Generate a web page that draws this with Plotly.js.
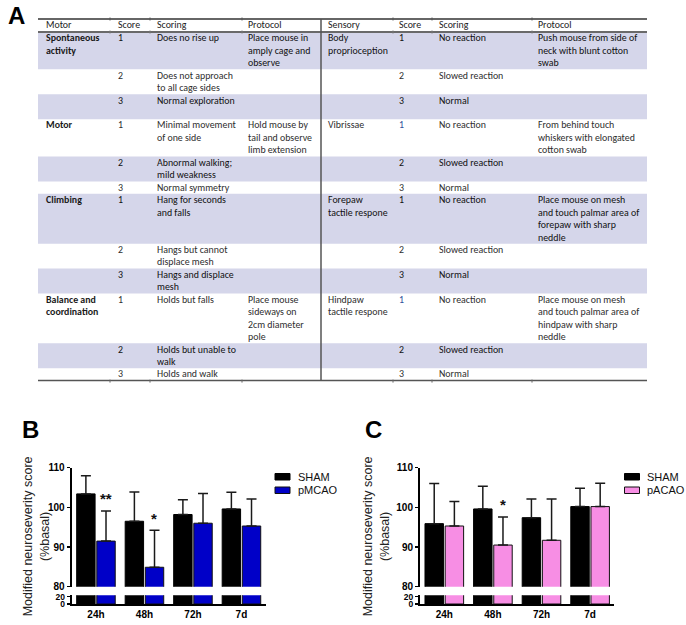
<!DOCTYPE html>
<html>
<head>
<meta charset="utf-8">
<script src="https://cdn.plot.ly/plotly-3.0.1.min.js"></script>
<style>html,body{margin:0;padding:0;background:#fff;}#chart{width:686px;height:625px;}</style>
</head>
<body>
<div id="chart"></div>
<script>
// ---------------- DATA ----------------
const tableHeaders = ["Motor", "Score", "Scoring", "Protocol", "Sensory", "Score", "Scoring", "Protocol"];
const motorCategory = ["Spontaneous\nactivity", "", "", "Motor", "", "", "Climbing", "", "", "Balance and\ncoordination", "", ""];
const motorScore = ["1", "2", "3", "1", "2", "3", "1", "2", "3", "1", "2", "3"];
const motorScoring = ["Does no rise up", "Does not approach\nto all cage sides", "Normal exploration",
  "Minimal movement\nof one side", "Abnormal walking;\nmild weakness", "Normal symmetry",
  "Hang for seconds\nand falls", "Hangs but cannot\ndisplace mesh", "Hangs and displace\nmesh",
  "Holds but falls", "Holds but unable to\nwalk", "Holds and walk"];
const motorProtocol = ["Place mouse in\namply cage and\nobserve", "", "", "Hold mouse by\ntail and observe\nlimb extension", "", "",
  "", "", "", "Place mouse\nsideways on\n2cm diameter\npole", "", ""];
const sensoryCategory = ["Body\nproprioception", "", "", "Vibrissae", "", "", "Forepaw\ntactile respone", "", "", "Hindpaw\ntactile respone", "", ""];
const sensoryScore = ["1", "2", "3", "1", "2", "3", "1", "2", "3", "1", "2", "3"];
const sensoryScoring = ["No reaction", "Slowed reaction", "Normal", "No reaction", "Slowed reaction", "Normal",
  "No reaction", "Slowed reaction", "Normal", "No reaction", "Slowed reaction", "Normal"];
const sensoryProtocol = ["Push mouse from side of\nneck with blunt cotton\nswab", "", "",
  "From behind touch\nwhiskers with elongated\ncotton swab", "", "",
  "Place mouse on mesh\nand touch palmar area of\nforepaw with sharp\nneddle", "", "",
  "Place mouse on mesh\nand touch palmar area of\nhindpaw with sharp\nneddle", "", ""];

const categories = ["24h", "48h", "72h", "7d"];
const seriesB = ["SHAM", "pMCAO"];
const shamB = [103.4, 96.5, 98.2, 99.6];
const shamB_sem = [4.6, 7.4, 3.7, 4.2];
const pmcao = [91.5, 84.9, 96.0, 95.3];
const pmcao_sem = [7.6, 9.3, 7.5, 6.8];
const sigB = ["**", "*", "", ""];

const seriesC = ["SHAM", "pACAO"];
const shamC = [95.9, 99.6, 97.4, 100.2];
const shamC_sem = [10.1, 5.7, 4.7, 4.6];
const pacao = [95.3, 90.5, 91.7, 100.2];
const pacao_sem = [6.2, 7.1, 10.4, 5.9];
const sigC = ["", "*", "", ""];

const yTitle = "Modified neuroseverity score<br>(%basal)";

// ---------------- LAYOUT HELPERS ----------------
const W = 686, H = 625;
const px = x => x / W;
const py = y => 1 - y / H;
const TFONT = "Carlito, Lato, 'Noto Sans', sans-serif";
const AFONT = "'Liberation Sans', Arial, sans-serif";
const TSIZE = 9.9;
const rowLines = [3, 2, 2, 3, 2, 1, 4, 2, 2, 4, 2, 1];
const lineH = 12.45;
const tLeft = 38, tRight = 647, tTop = 19, hdrBottom = 32;
const colX = [45, 117, 156, 247, 327, 398, 438, 537];
const divX = 321;

const shapes = [];
const annotations = [];

// table rows
let yCur = hdrBottom;
const rowTops = [];
rowLines.forEach((n, i) => {
  rowTops.push(yCur);
  const h = n * lineH;
  if (i % 2 === 0) {
    shapes.push({type: 'rect', xref: 'paper', yref: 'paper', x0: px(tLeft), x1: px(tRight), y0: py(yCur + h), y1: py(yCur),
      fillcolor: '#d5d6ea', line: {width: 0}, layer: 'below'});
  }
  yCur += h;
});
const tBottom = yCur;

function line(x0, y0, x1, y1, w, c) {
  shapes.push({type: 'line', xref: 'paper', yref: 'paper', x0: px(x0), y0: py(y0), x1: px(x1), y1: py(y1), line: {width: w, color: c}});
}
line(tLeft, tTop, tRight, tTop, 1.5, '#333');
line(tLeft, hdrBottom, tRight, hdrBottom, 2, '#6a6a6a');
line(tLeft, tBottom, tRight, tBottom, 1.5, '#555');
line(divX, tTop, divX, tBottom, 1.5, '#555');
[110, 150, 242, 393, 432, 532].forEach(x => {
  line(x, tTop - 1.5, x, tTop + 1.5, 1, '#555');
  line(x, hdrBottom - 1.5, x, hdrBottom + 1.5, 1, '#777');
  line(x, tBottom - 1, x, tBottom + 2, 1, '#666');
});

function cell(txt, x, rowTop, opts) {
  if (!txt) return;
  txt.split("\n").forEach((ln, k) => {
    const t = (opts && opts.bold) ? "<b>" + ln + "</b>" : ln;
    annotations.push({xref: 'paper', yref: 'paper', x: px(x), y: py(rowTop + 6.3 + k * lineH), xanchor: 'left', yanchor: 'middle',
      text: t, showarrow: false, align: 'left', borderpad: 0,
      font: {family: TFONT, size: TSIZE, color: (opts && opts.color) || '#262626'}});
  });
}
tableHeaders.forEach((h, j) => {
  annotations.push({xref: 'paper', yref: 'paper', x: px(colX[j]), y: py(25.5), xanchor: 'left', yanchor: 'middle',
    text: h, showarrow: false, borderpad: 0, font: {family: TFONT, size: TSIZE, color: '#222'}});
});
rowTops.forEach((top, i) => {
  const shaded = i % 2 === 0;
  const col = shaded ? '#111' : '#2e2e2e';
  cell(motorCategory[i], colX[0], top, {bold: true, color: '#1a1a1a'});
  cell(motorScore[i], colX[1], top, {color: col});
  cell(motorScoring[i], colX[2], top, {color: col});
  cell(motorProtocol[i], colX[3], top, {color: col});
  cell(sensoryCategory[i], colX[4], top, {color: col});
  cell(sensoryScore[i], colX[5], top, {color: (i === 3 || i === 9) ? '#2f4f9a' : col});
  cell(sensoryScoring[i], colX[6], top, {color: col});
  cell(sensoryProtocol[i], colX[7], top, {color: col});
});

// panel letters
[["A", 16, 16], ["B", 30, 429], ["C", 373, 429]].forEach(([t, x, y]) => {
  annotations.push({xref: 'paper', yref: 'paper', x: px(x), y: py(y), xanchor: 'center', yanchor: 'middle',
    text: "<b>" + t + "</b>", showarrow: false, font: {family: AFONT, size: 24, color: '#000'}});
});

// ---------------- CHARTS ----------------
const upTop = 467.7, upBot = 586.7, lowTop = 595.2, lowBot = 604;
const tickFont = {family: AFONT, size: 10, color: '#000', weight: 'bold'};
const lowTickFont = {family: AFONT, size: 8.5, color: '#000', weight: 'bold'};

function xAx(x0, x1, anchor) {
  return {domain: [px(x0), px(x1)], anchor: anchor, type: 'category', range: [-0.5, 3.5],
    showline: true, linewidth: 2, linecolor: '#000', ticks: '', showgrid: false, zeroline: false,
    tickfont: tickFont, fixedrange: true};
}
function yAx(y0px, y1px, range, tv, anchor, tf) {
  return {domain: [py(y0px), py(y1px)], anchor: anchor, range: range, tickvals: tv, ticktext: tv.map(String),
    ticks: 'outside', ticklen: 3, tickwidth: 1.5, tickcolor: '#000', showline: true, linewidth: 2, linecolor: '#000',
    showgrid: false, zeroline: false, tickfont: tf, fixedrange: true};
}

const traces = [];
function addPanel(xa, yLow, yUp, s1, e1, s2, e2, c2) {
  const z = categories.map(() => 0);
  const common = {type: 'bar', x: categories, xaxis: xa, hoverinfo: 'skip'};
  traces.push(Object.assign({}, common, {y: s1, yaxis: yUp, marker: {color: '#000', line: {color: '#000', width: 1}},
    error_y: {type: 'data', symmetric: false, array: e1, arrayminus: z, color: '#1a1a1a', thickness: 1.5, width: 5}}));
  traces.push(Object.assign({}, common, {y: s2, yaxis: yUp, marker: {color: c2, line: {color: '#111', width: 1}},
    error_y: {type: 'data', symmetric: false, array: e2, arrayminus: z, color: '#1a1a1a', thickness: 1.5, width: 5}}));
  traces.push(Object.assign({}, common, {y: s1, yaxis: yLow, marker: {color: '#000', line: {color: '#000', width: 1}}}));
  traces.push(Object.assign({}, common, {y: s2, yaxis: yLow, marker: {color: c2, line: {color: '#111', width: 1}}}));
}
const blue = '#0000c8', pink = '#f78ee4';
addPanel('x', 'y', 'y2', shamB, shamB_sem, pmcao, pmcao_sem, blue);
addPanel('x2', 'y3', 'y4', shamC, shamC_sem, pacao, pacao_sem, pink);

function stars(xa, yUp, sig, vals, sem) {
  sig.forEach((s, i) => {
    if (!s) return;
    annotations.push({xref: xa, yref: yUp, x: categories[i], y: vals[i] + sem[i], xshift: 10, yshift: 12,
      xanchor: 'center', yanchor: 'middle', text: "<b>" + s + "</b>", showarrow: false,
      font: {family: AFONT, size: 15, color: '#111'}});
  });
}
stars('x', 'y2', sigB, pmcao, pmcao_sem);
stars('x2', 'y4', sigC, pacao, pacao_sem);

// y titles
[[36.3], [376.3]].forEach(([x]) => {
  annotations.push({xref: 'paper', yref: 'paper', x: px(x), y: py(536), xanchor: 'center', yanchor: 'middle',
    text: yTitle, textangle: -90, showarrow: false, font: {family: AFONT, size: 12.5, color: '#222'}});
});

// legends
function legend(sx, tx, names, c2) {
  const items = [[473.5, 480, '#000', '#000'], [487, 493.5, c2, '#111']];
  items.forEach(([y0, y1, fc, lc], k) => {
    shapes.push({type: 'rect', xref: 'paper', yref: 'paper', x0: px(sx), x1: px(sx + 15), y0: py(y1), y1: py(y0),
      fillcolor: fc, line: {color: lc, width: 1}});
    annotations.push({xref: 'paper', yref: 'paper', x: px(tx), y: py((y0 + y1) / 2), xanchor: 'left', yanchor: 'middle',
      text: names[k], showarrow: false, borderpad: 0, font: {family: AFONT, size: 11, color: '#111'}});
  });
}
legend(275, 297, seriesB, blue);
legend(624.5, 646, seriesC, pink);

const layout = {
  width: W, height: H, margin: {l: 0, r: 0, t: 0, b: 0},
  paper_bgcolor: '#fff', plot_bgcolor: 'rgba(0,0,0,0)', showlegend: false,
  barmode: 'group', bargap: 0.17, bargroupgap: 0.085,
  xaxis: xAx(71.7, 265.7, 'y'),
  yaxis: yAx(lowBot, lowTop, [0, 24], [0, 20], 'x', lowTickFont),
  yaxis2: yAx(upBot, upTop, [80, 110], [80, 90, 100, 110], 'x', tickFont),
  xaxis2: xAx(420, 614.4, 'y3'),
  yaxis3: yAx(lowBot, lowTop, [0, 24], [0, 20], 'x2', lowTickFont),
  yaxis4: yAx(upBot, upTop, [80, 110], [80, 90, 100, 110], 'x2', tickFont),
  shapes: shapes, annotations: annotations
};
Plotly.newPlot('chart', traces, layout, {staticPlot: true, displayModeBar: false});
</script>
</body>
</html>
